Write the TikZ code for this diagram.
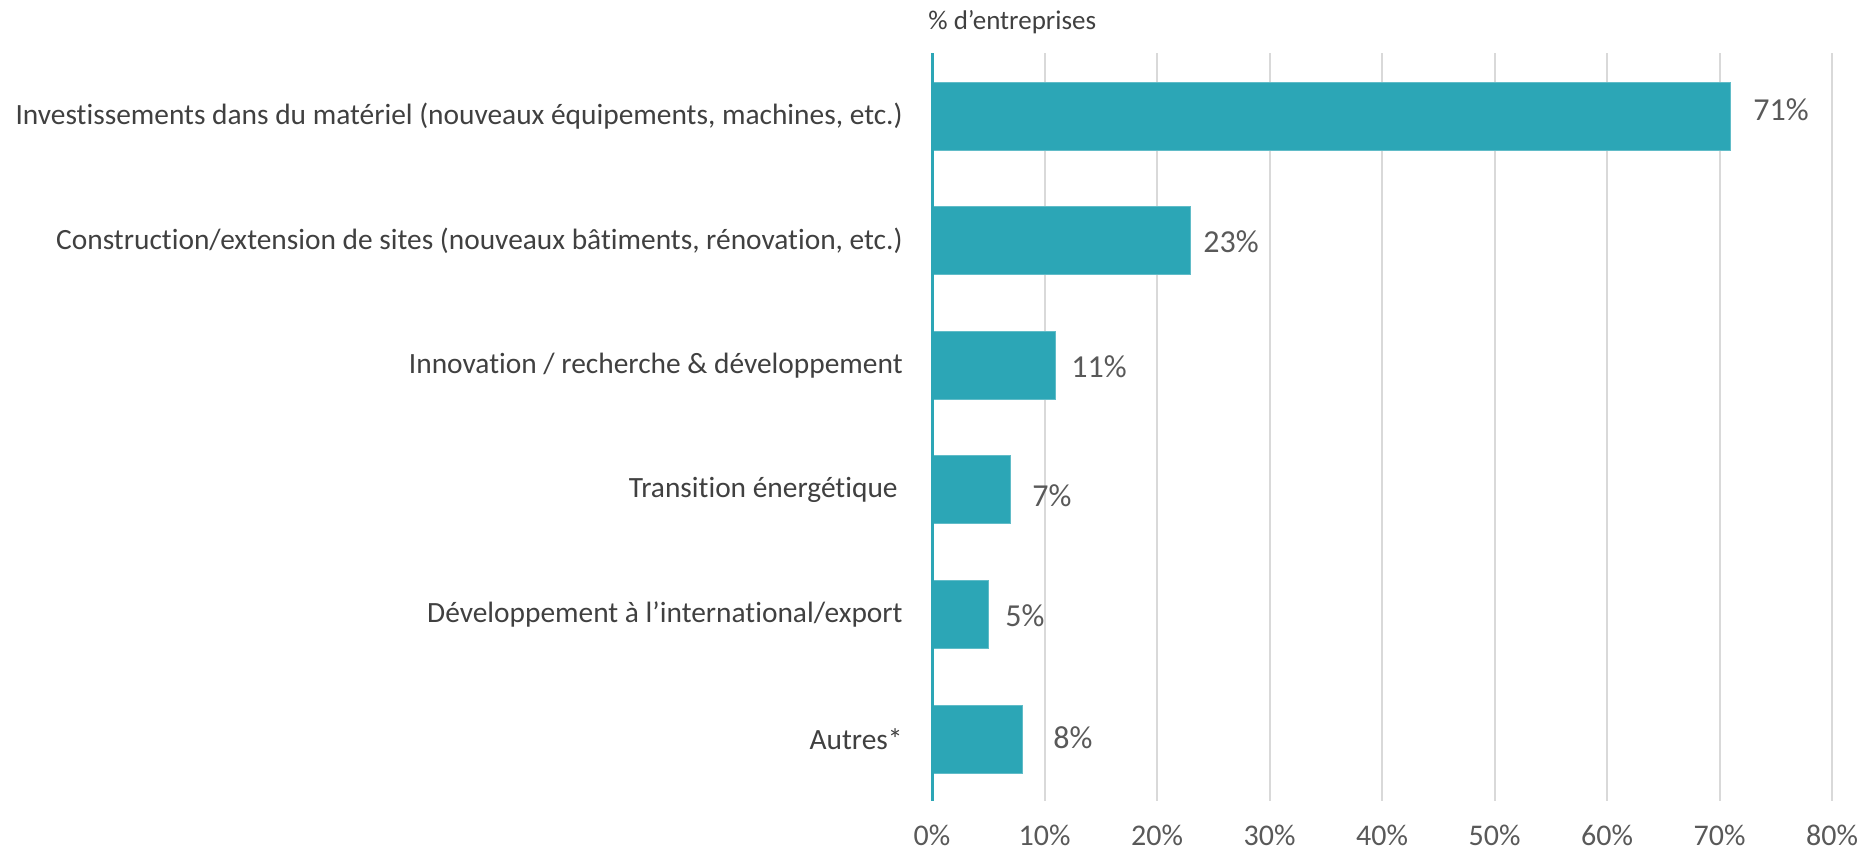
\documentclass[tikz,border=0pt]{standalone}
\usepackage{fontspec}
\setmainfont{Carlito}[Ligatures = NoCommon]
\definecolor{barteal}{HTML}{2CA6B6}
\definecolor{labelgrey}{HTML}{404040}
\definecolor{valuegrey}{HTML}{595959}
\definecolor{gridgrey}{HTML}{D9D9D9}
\tikzset{
  pctbar/.style = {fill = barteal, draw = barteal!75!white, line width = 0.4pt},
  gridline/.style = {draw = gridgrey, line width = 1pt},
  catlabel/.style = {anchor = east, inner sep = 0pt, text = labelgrey, font = \fontsize{14.7}{18}\selectfont},
  vallabel/.style = {anchor = west, inner sep = 0pt, text = valuegrey, font = \fontsize{16}{19}\selectfont},
  ticklabel/.style = {anchor = center, inner sep = 0pt, text = valuegrey, font = \fontsize{15}{18}\selectfont}
}

\begin{document}
\begin{tikzpicture} [x = 0.5pt, y = -0.5pt]
\useasboundingbox (0, 0) rectangle (1859, 851);
\draw[gridline] (1044.5, 53) -- (1044.5, 801);
\draw[gridline] (1157.0, 53) -- (1157.0, 801);
\draw[gridline] (1269.5, 53) -- (1269.5, 801);
\draw[gridline] (1382.0, 53) -- (1382.0, 801);
\draw[gridline] (1494.5, 53) -- (1494.5, 801);
\draw[gridline] (1607.0, 53) -- (1607.0, 801);
\draw[gridline] (1719.5, 53) -- (1719.5, 801);
\draw[gridline] (1832.0, 53) -- (1832.0, 801);
\filldraw[pctbar] (932, 82.0) rectangle (1730.75, 150.0);
\filldraw[pctbar] (932, 206.6) rectangle (1190.75, 274.6);
\filldraw[pctbar] (932, 331.2) rectangle (1055.75, 399.2);
\filldraw[pctbar] (932, 455.8) rectangle (1010.75, 523.8);
\filldraw[pctbar] (932, 580.4) rectangle (988.25, 648.4);
\filldraw[pctbar] (932, 705.0) rectangle (1022.00, 773.0);
\draw[barteal, line width = 1.5pt] (932, 53) -- (932, 801);
\node[anchor = west, inner sep = 0pt, text = labelgrey, font = \fontsize{13.5}{16}\selectfont] (unit) at (928, 22) {\% d’entreprises};
\node[catlabel] (materiel) at (903, 116.0) {Investissements dans du matériel (nouveaux équipements, machines, etc.)};
\node[catlabel] (construction) at (903, 240.6) {Construction/extension de sites (nouveaux bâtiments, rénovation, etc.)};
\node[catlabel] (innovation) at (903, 365.2) {Innovation / recherche \& développement};
\node[catlabel] (transition) at (898, 489.8) {Transition énergétique};
\node[catlabel] (international) at (903, 614.4) {Développement à l’international/export};
\node[catlabel] (autres) at (903, 739.0) {Autres*};
\node[vallabel] (v71) at (1753, 110.0) {71\%};
\node[vallabel] (v23) at (1203, 242.0) {23\%};
\node[vallabel] (v11) at (1071, 367.0) {11\%};
\node[vallabel] (v7) at (1032, 496.0) {7\%};
\node[vallabel] (v5) at (1005, 616.0) {5\%};
\node[vallabel] (v8) at (1053, 738.0) {8\%};
\node[ticklabel] (t0) at (932.0, 835) {0\%};
\node[ticklabel] (t10) at (1044.5, 835) {10\%};
\node[ticklabel] (t20) at (1157.0, 835) {20\%};
\node[ticklabel] (t30) at (1269.5, 835) {30\%};
\node[ticklabel] (t40) at (1382.0, 835) {40\%};
\node[ticklabel] (t50) at (1494.5, 835) {50\%};
\node[ticklabel] (t60) at (1607.0, 835) {60\%};
\node[ticklabel] (t70) at (1719.5, 835) {70\%};
\node[ticklabel] (t80) at (1832.0, 835) {80\%};
\end{tikzpicture}
\end{document}
